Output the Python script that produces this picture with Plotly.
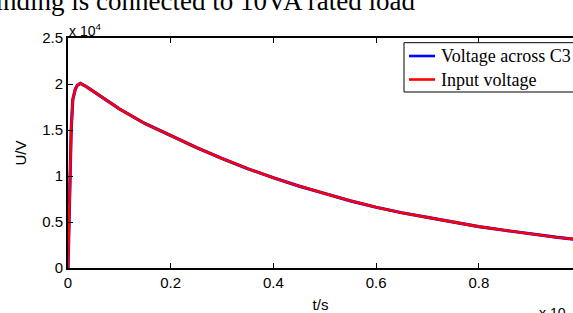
import plotly.graph_objects as go

# time axis (scaled, as displayed) and voltages in units of 10^4 V
t = [0, 0.0008, 0.0016, 0.0035, 0.0062, 0.0093, 0.014, 0.018, 0.024, 0.035, 0.05,
     0.1, 0.15, 0.2, 0.25, 0.3, 0.35, 0.4, 0.45, 0.5, 0.55, 0.6, 0.65, 0.7,
     0.75, 0.8, 0.85, 0.9, 0.95, 1.0]
u_c3 = [0, 0.25, 0.5, 1.0, 1.5, 1.83, 1.94, 1.985, 2.007, 1.975, 1.92,
        1.73, 1.57, 1.44, 1.31, 1.19, 1.08, 0.98, 0.89, 0.81, 0.73, 0.66, 0.60, 0.55,
        0.50, 0.45, 0.41, 0.37, 0.335, 0.305]
u_in = [0, 0.25, 0.5, 1.0, 1.5, 1.83, 1.94, 1.985, 2.007, 1.975, 1.92,
        1.73, 1.57, 1.44, 1.31, 1.19, 1.08, 0.98, 0.89, 0.81, 0.73, 0.66, 0.60, 0.55,
        0.50, 0.45, 0.41, 0.37, 0.335, 0.305]

series_names = ["Voltage across C3", "Input voltage"]
series_colors = ["#0000ff", "#ff0000"]

x_ticks = [0, 0.2, 0.4, 0.6, 0.8, 1.0]
x_ticklabels = ["0", "0.2", "0.4", "0.6", "0.8", "1"]
y_ticks = [0, 0.5, 1, 1.5, 2, 2.5]
y_ticklabels = ["0", "0.5", "1", "1.5", "2", "2.5"]

W, H = 573, 313
L, R, T, B = 68, 0, 38, 45
pw, ph = W - L - R, H - T - B


def px(x):
    return (x - L) / pw


def py(y):
    return (H - B - y) / ph


sans = "Liberation Sans, Arial, sans-serif"
serif = "Liberation Serif, Times New Roman, serif"

fig = go.Figure()
fig.add_trace(go.Scatter(x=t, y=u_c3, mode="lines", name=series_names[0],
                         line=dict(color=series_colors[0], width=3.2)))
fig.add_trace(go.Scatter(x=t, y=u_in, mode="lines", name=series_names[1],
                         line=dict(color=series_colors[1], width=2.6)))

# legend box (MATLAB style), drawn in paper coordinates
shapes = [dict(type="rect", xref="paper", yref="paper",
               x0=px(404), x1=px(620), y0=py(92), y1=py(42.7),
               line=dict(color="black", width=1), fillcolor="white", layer="above")]
annotations = []
for i, (name, col) in enumerate(zip(series_names, series_colors)):
    yy = 56 + i * 23.5
    shapes.append(dict(type="line", xref="paper", yref="paper",
                       x0=px(409), x1=px(435), y0=py(yy), y1=py(yy),
                       line=dict(color=col, width=2.6), layer="above"))
    annotations.append(dict(text=name, xref="paper", yref="paper",
                            x=px(439), y=py(yy), xanchor="left", yanchor="middle",
                            showarrow=False,
                            font=dict(family=serif, size=18, color="black")))

annotations += [
    dict(text="winding is connected to 10VA rated load", xref="paper", yref="paper",
         x=px(417), y=py(1), xanchor="right", yanchor="middle", showarrow=False,
         font=dict(family=serif, size=27, color="black")),
    dict(text="x 10<sup>4</sup>", xref="paper", yref="paper",
         x=px(67), y=py(29.5), xanchor="left", yanchor="middle", showarrow=False,
         font=dict(family=sans, size=14, color="black")),
    dict(text="x 10", xref="paper", yref="paper",
         x=px(537), y=py(313), xanchor="left", yanchor="middle", showarrow=False,
         font=dict(family=sans, size=14, color="black")),
]

fig.update_layout(
    width=W, height=H, autosize=False,
    margin=dict(l=L, r=R, t=T, b=B, pad=0),
    paper_bgcolor="white", plot_bgcolor="white",
    font=dict(family=sans, size=15, color="black"),
    showlegend=False,
    xaxis=dict(range=[0, (W - L) / 513.5], tickvals=x_ticks, ticktext=x_ticklabels,
               ticks="inside", ticklen=5, tickwidth=1, tickcolor="black",
               showline=True, linecolor="black", linewidth=2, mirror="ticks",
               showgrid=False, zeroline=False,
               tickfont=dict(family=sans, size=15, color="black"),
               title=dict(text="t/s", font=dict(family=sans, size=15), standoff=10)),
    yaxis=dict(range=[0, 2.5], tickvals=y_ticks, ticktext=y_ticklabels,
               ticks="inside", ticklen=5, tickwidth=1, tickcolor="black",
               showline=True, linecolor="black", linewidth=2, mirror=False,
               showgrid=False, zeroline=False,
               tickfont=dict(family=sans, size=15, color="black"),
               title=dict(text="U/V", font=dict(family=sans, size=15), standoff=12)),
    shapes=shapes,
    annotations=annotations,
)

fig.write_html("out.html", config={"displayModeBar": False},
               post_script="document.body.style.margin='0px';")
